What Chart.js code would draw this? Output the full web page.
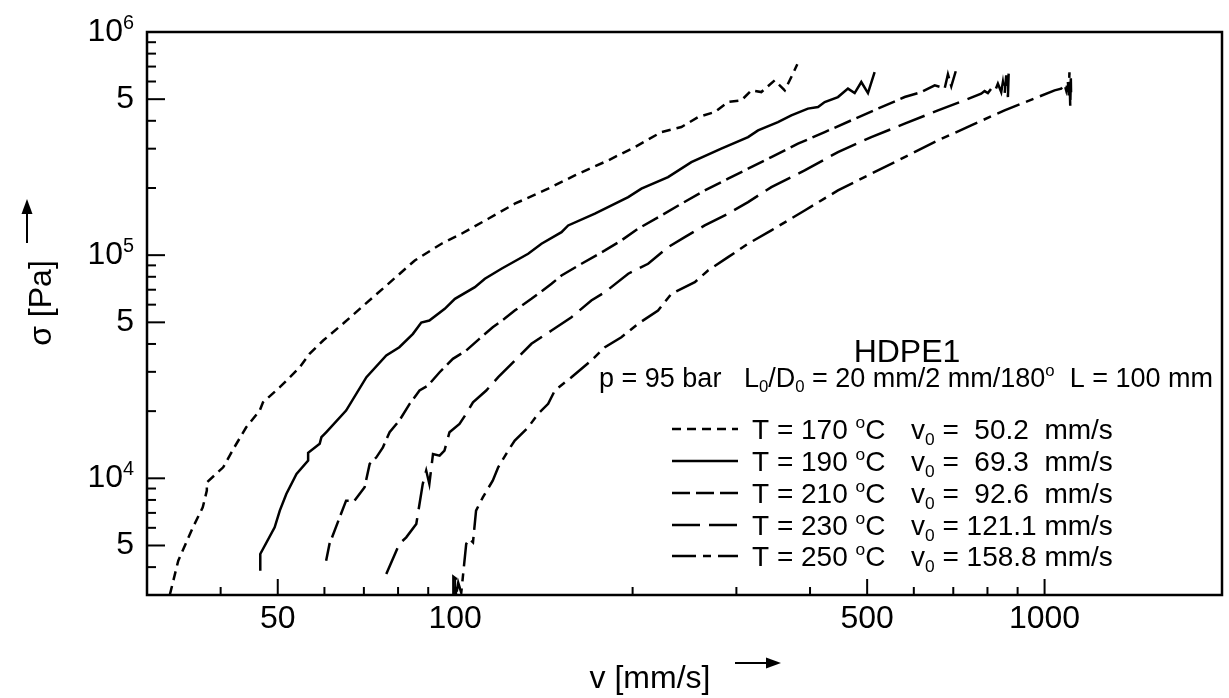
<!DOCTYPE html>
<html>
<head>
<meta charset="utf-8">
<script src="https://cdn.jsdelivr.net/npm/chart.js@4.4.1/dist/chart.umd.min.js"></script>
<style>
  html, body { margin: 0; padding: 0; background: #fff; }
  canvas { display: block; }
</style>
</head>
<body>
<canvas id="chart" width="1229" height="698"></canvas>
<script>
// Extrusion stress σ [Pa] versus piston speed v [mm/s], HDPE1, five melt temperatures
const temps = [170, 190, 210, 230, 250];
const v0 = [' 50.2 ', ' 69.3 ', ' 92.6 ', '121.1', '158.8'];

const v170 = [32.8, 33.9, 35.9, 37.3, 37.9, 37.9, 40.4, 42.2, 44.2, 46.6, 47.2, 50.4, 54.5, 56.6, 59.7, 64.5, 69.4, 77.0, 85.4, 94.8, 102.5, 113.8, 126.2, 143.8, 159.6, 181.8, 201.7, 223.8, 242, 258.3, 275.7, 290.4, 305.9, 318.2, 330.7, 348.4, 362.4, 371.8, 380.6];
const s170 = [3010, 4276, 6030, 7413, 8806, 9594, 11200, 13770, 16930, 20120, 21910, 25600, 31470, 36130, 41450, 49260, 58470, 74400, 94670, 112500, 124700, 145600, 170000, 198500, 227800, 265900, 305000, 356000, 375000, 415700, 437700, 485500, 494000, 547800, 538200, 607400, 547800, 628400, 716400];

const v190 = [46.7, 46.7, 49.4, 50.4, 51.7, 53.8, 56.3, 56.3, 58.9, 59.3, 60.4, 65.3, 70.7, 76.4, 80.4, 84.8, 87.6, 90.4, 96.0, 99.9, 108.0, 112.3, 119.8, 133.0, 140.1, 151.5, 155.5, 172.6, 196.6, 207.0, 229.7, 251.6, 282.8, 314.0, 326.5, 352.9, 371.8, 396.7, 412.7, 423.6, 446.1, 463.9, 476.2, 488.7, 501.6, 514.8];
const s190 = [3856, 4581, 6030, 7166, 8511, 10460, 12010, 13000, 14270, 15280, 16080, 20120, 28380, 35500, 38680, 44410, 49920, 50960, 57500, 63740, 71870, 78390, 86900, 101500, 112500, 126800, 135900, 153400, 182000, 198500, 223800, 261200, 300000, 338100, 362400, 394900, 423200, 453500, 461100, 485500, 511100, 557400, 532700, 596800, 532700, 661600];

const v210 = [60.4, 61.2, 65.3, 67.5, 70.2, 71.6, 73.5, 75.4, 77.4, 80.4, 83.7, 87.0, 89.9, 94.1, 99.1, 104.4, 109.9, 115.8, 121.2, 126.2, 134.7, 145.7, 151.5, 163.8, 179.5, 191.4, 204.3, 223.8, 242.0, 265.1, 290.4, 314.0, 343.9, 381.6, 423.6, 469.9, 521.5, 578.9, 617.6, 651.1, 676.9, 685.5, 694.6, 707.5];
const s210 = [4276, 5079, 7943, 7943, 9113, 11600, 12420, 13770, 16080, 18150, 21560, 24740, 26040, 29880, 34310, 37380, 42180, 47550, 51860, 56490, 63740, 74400, 81100, 91500, 105000, 116400, 131350, 150700, 170000, 195000, 220100, 244000, 275100, 315900, 356000, 401800, 453500, 511100, 538200, 576800, 559100, 646000, 570800, 673400];

const v230 = [76.4, 80.4, 82.6, 85.9, 88.1, 89.3, 90.4, 91.7, 94.1, 95.9, 97.8, 101.7, 104.4, 107.2, 112.9, 118.3, 127.9, 134.7, 145.7, 157.5, 170.2, 179.5, 196.6, 212.5, 229.7, 245.2, 265.1, 290.4, 314.0, 343.9, 391.7, 446.1, 508.2, 578.9, 659.5, 731.6, 780.6, 791.1, 801.4, 811.9, 822.6, 833.3, 844.2, 849.8, 855.5, 860.9, 866.6, 869];
const s230 = [3726, 5079, 5438, 6245, 9438, 10830, 9438, 12860, 12640, 13310, 16080, 17540, 19450, 21910, 24740, 28380, 34880, 40060, 45950, 52720, 62640, 68250, 82540, 91500, 108600, 120400, 135900, 153400, 172900, 201800, 239800, 289600, 338100, 388300, 445600, 494000, 529400, 543700, 532700, 557400, 538200, 587000, 538200, 596800, 529400, 639400, 511100, 650800];

const v250 = [99.3, 99.3, 100.3, 100.3, 101.2, 102.4, 104.4, 105.7, 107.2, 108.5, 111.4, 115.8, 118.3, 123.0, 126.2, 133.0, 138.2, 143.8, 147.6, 157.5, 170.2, 179.5, 191.4, 204.3, 220.9, 232.8, 255.0, 268.5, 290.4, 314.0, 343.9, 391.7, 446.1, 508.2, 578.9, 659.5, 750.7, 855.3, 974.2, 1040, 1067, 1081, 1088, 1095, 1099, 1102, 1105.5, 1108, 1109];
const s250 = [2950, 3620, 3550, 2950, 3407, 3072, 5079, 5350, 5164, 7166, 8220, 9765, 11200, 13310, 14760, 16930, 19450, 21560, 24740, 28380, 33720, 38680, 42890, 49260, 56490, 67140, 75650, 85400, 97950, 112500, 129100, 158600, 195000, 231700, 275100, 326800, 381500, 445600, 511100, 547800, 557400, 582800, 547800, 607400, 520100, 659600, 464400, 620100, 536600];

// Axis ticks
const xMajor = [50, 100, 500, 1000];
const xMajorLabels = ['50', '100', '500', '1000'];
const xMinor = [40, 60, 70, 80, 90, 200, 300, 400, 600, 700, 800, 900];
const yMajor = [5e3, 1e4, 5e4, 1e5, 5e5, 1e6];
const yMajorLabels = ['5', '10^4', '5', '10^5', '5', '10^6'];
const yMinor = [4e3, 6e3, 7e3, 8e3, 9e3, 2e4, 3e4, 4e4, 6e4, 7e4, 8e4, 9e4, 2e5, 3e5, 4e5, 6e5, 7e5, 8e5, 9e5];

const FONT = '"Liberation Sans", Arial, Helvetica, sans-serif';
const dashes = [[9, 6], [], [18, 6], [28, 9], [24, 7, 8, 7]];
const velocities = [v170, v190, v210, v230, v250];
const stresses = [s170, s190, s210, s230, s250];

function setFont(ctx, size) { ctx.font = size + 'px ' + FONT; }

// parts: [text, mode] with mode '' | 'sup' | 'sub'
function richWidth(ctx, parts, size) {
  let w = 0;
  for (const [t, m] of parts) { setFont(ctx, m ? size * 0.62 : size); w += ctx.measureText(t).width; }
  return w;
}
function drawRich(ctx, parts, x, y, size, align) {
  const w = richWidth(ctx, parts, size);
  let cx = align === 'center' ? x - w / 2 : align === 'right' ? x - w : x;
  ctx.textAlign = 'left';
  ctx.textBaseline = 'alphabetic';
  for (const [t, m] of parts) {
    const s = m ? size * 0.62 : size;
    setFont(ctx, s);
    const dy = m === 'sup' ? -size * 0.39 : m === 'sub' ? size * 0.2 : 0;
    ctx.fillText(t, cx, y + dy);
    cx += ctx.measureText(t).width;
  }
}
function parseLabel(str) {
  const i = str.indexOf('^');
  return i < 0 ? [[str, '']] : [[str.slice(0, i), ''], [str.slice(i + 1), 'sup']];
}
function seg(ctx, x1, y1, x2, y2) {
  ctx.beginPath(); ctx.moveTo(x1, y1); ctx.lineTo(x2, y2); ctx.stroke();
}

const frameAndText = {
  id: 'frameAndText',
  afterDatasetsDraw(chart) {
    const { ctx, chartArea: a, scales: { x, y } } = chart;
    ctx.save();
    ctx.fillStyle = '#000';
    ctx.strokeStyle = '#000';
    ctx.setLineDash([]);

    // frame
    ctx.lineWidth = 2.5;
    ctx.strokeRect(a.left, a.top, a.right - a.left, a.bottom - a.top);

    // inward ticks
    ctx.lineWidth = 2;
    xMinor.forEach(v => { const p = x.getPixelForValue(v); seg(ctx, p, a.bottom, p, a.bottom - 8); });
    xMajor.forEach(v => { const p = x.getPixelForValue(v); seg(ctx, p, a.bottom, p, a.bottom - 16); });
    yMinor.forEach(v => { const p = y.getPixelForValue(v); seg(ctx, a.left, p, a.left + 9, p); });
    yMajor.forEach(v => { const p = y.getPixelForValue(v); seg(ctx, a.left, p, a.left + 18, p); });

    // tick labels
    xMajor.forEach((v, i) => {
      drawRich(ctx, [[xMajorLabels[i], '']], x.getPixelForValue(v), a.bottom + 33, 32, 'center');
    });
    yMajor.forEach((v, i) => {
      drawRich(ctx, parseLabel(yMajorLabels[i]), a.left - 13, y.getPixelForValue(v) + 9, 32, 'right');
    });

    // x title with arrow
    drawRich(ctx, [['v [mm/s]', '']], 650, 688, 32, 'center');
    ctx.lineWidth = 2;
    seg(ctx, 735, 663, 768, 663);
    ctx.beginPath(); ctx.moveTo(781, 663); ctx.lineTo(766, 657.5); ctx.lineTo(766, 668.5); ctx.closePath(); ctx.fill();

    // y title with arrow
    ctx.save();
    ctx.translate(51, 303);
    ctx.rotate(-Math.PI / 2);
    drawRich(ctx, [['σ [Pa]', '']], 0, 0, 32, 'center');
    ctx.restore();
    seg(ctx, 27, 243, 27, 212);
    ctx.beginPath(); ctx.moveTo(27, 199); ctx.lineTo(21.5, 214); ctx.lineTo(32.5, 214); ctx.closePath(); ctx.fill();

    // material and die annotation
    drawRich(ctx, [['HDPE1', '']], 907, 362, 32, 'center');
    drawRich(ctx, [
      ['p = 95 bar   L', ''], ['0', 'sub'], ['/D', ''], ['0', 'sub'],
      [' = 20 mm/2 mm/180', ''], ['o', 'sup'], ['  L = 100 mm', '']
    ], 906, 387, 27, 'center');

    // legend
    const rowY = [429, 461, 493, 525, 556];
    temps.forEach((t, i) => {
      const ry = rowY[i];
      ctx.lineWidth = 2.5;
      ctx.setLineDash(dashes[i]);
      seg(ctx, 672, ry, 738, ry);
      ctx.setLineDash([]);
      drawRich(ctx, [['T = ' + t + ' ', ''], ['o', 'sup'], ['C', '']], 752, ry + 10, 28, 'left');
      drawRich(ctx, [['v', ''], ['0', 'sub'], [' = ' + v0[i] + ' mm/s', '']], 911, ry + 10, 28, 'left');
    });
    ctx.restore();
  }
};

new Chart(document.getElementById('chart'), {
  type: 'scatter',
  data: {
    datasets: temps.map((t, i) => ({
      label: 'T = ' + t + ' °C',
      data: velocities[i].map((v, j) => ({ x: v, y: stresses[i][j] })),
      showLine: true,
      borderColor: '#000',
      backgroundColor: '#000',
      borderWidth: 2.5,
      borderDash: dashes[i],
      pointRadius: 0,
      pointHoverRadius: 0,
      tension: 0,
      fill: false
    }))
  },
  options: {
    responsive: false,
    devicePixelRatio: 1,
    animation: false,
    layout: { padding: { left: 147, right: 7, top: 32, bottom: 103 } },
    scales: {
      x: { type: 'logarithmic', min: 30, max: 2000, display: false },
      y: { type: 'logarithmic', min: 3000, max: 1e6, display: false }
    },
    plugins: { legend: { display: false }, tooltip: { enabled: false } }
  },
  plugins: [frameAndText]
});
</script>
</body>
</html>
